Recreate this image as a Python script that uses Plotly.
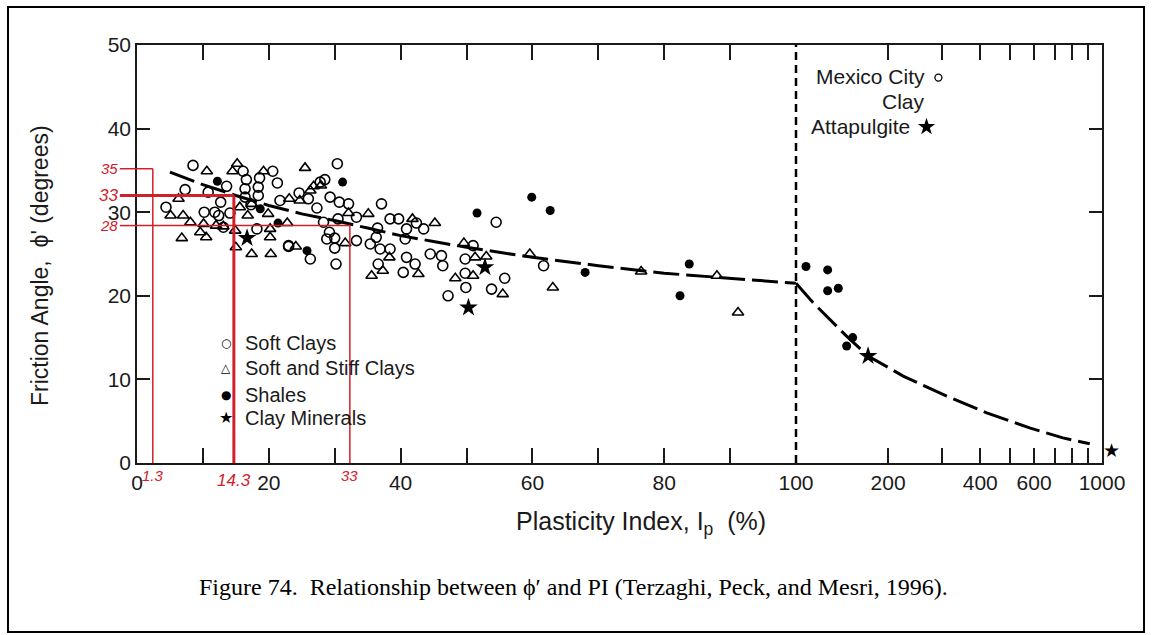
import math
import plotly.graph_objects as go

# ---------------- data ----------------
soft_x = [4.4, 7.3, 8.5, 10.2, 10.8, 11.8, 12.7, 12.4, 13.6, 14.1, 13.1, 16.1, 16.6, 16.4, 16.4, 17.3,
          18.6, 18.4, 18.4, 18.2, 20.6, 21.3, 21.7, 23.0, 24.6, 26.3, 27.3, 27.8, 28.5, 29.3, 29.2,
          28.8, 30.0, 30.0, 30.2, 30.4, 30.7, 32.1, 33.3, 33.3, 30.5, 28.3, 37.1, 35.4, 36.3, 36.9,
          38.4, 36.6, 38.4, 39.7, 40.9, 42.4, 43.5, 40.7, 40.9, 42.2, 40.4, 44.5, 46.2, 46.4, 47.2,
          49.8, 49.8, 49.9, 51.0, 53.8, 55.8, 54.5, 61.7, 26.0, 36.5, 23.0]
soft_y = [30.6, 32.7, 35.6, 30.0, 32.4, 30.0, 31.2, 29.6, 33.1, 29.9, 28.2, 34.9, 33.9, 32.8, 31.8, 30.9,
          34.1, 33.0, 32.0, 28.0, 34.9, 33.5, 31.4, 25.9, 32.3, 24.4, 30.5, 33.6, 33.9, 31.8, 27.6,
          26.8, 26.9, 25.7, 23.8, 35.8, 31.2, 31.0, 29.4, 26.6, 29.2, 28.8, 31.0, 26.2, 27.0, 25.6,
          25.6, 23.8, 29.2, 29.2, 28.0, 28.7, 28.0, 26.8, 24.6, 23.8, 22.8, 25.0, 24.8, 23.6, 20.0,
          24.4, 22.7, 21.0, 26.0, 20.8, 22.1, 28.8, 23.6, 31.6, 28.1, 26.0]

stiff_x = [5.1, 6.3, 7.0, 8.1, 6.8, 9.6, 10.1, 10.5, 10.6, 12.0, 13.1, 14.5, 15.2, 14.9, 15.0, 15.6,
           17.4, 16.8, 17.4, 19.2, 19.9, 20.2, 20.2, 20.3, 22.8, 23.1, 24.1, 24.7, 25.5, 26.3, 26.8,
           27.9, 31.6, 32.1, 35.1, 35.6, 37.3, 38.3, 41.8, 42.7, 45.2, 48.3, 49.6, 51.0, 51.3, 53.0,
           55.5, 59.6, 63.1, 76.5, 88.0, 91.2]
stiff_y = [29.6, 31.6, 29.6, 28.8, 26.9, 27.6, 28.6, 27.0, 34.9, 28.4, 28.3, 34.9, 35.8, 27.8, 25.8, 30.6,
           31.0, 29.6, 25.0, 34.9, 29.8, 28.0, 27.0, 25.0, 28.7, 31.6, 25.9, 31.4, 35.3, 32.6, 33.1,
           33.2, 26.3, 29.9, 29.8, 22.4, 23.0, 24.6, 29.2, 22.6, 28.7, 22.1, 26.3, 22.4, 24.6, 24.7,
           20.2, 25.0, 21.0, 22.9, 22.4, 18.0]

shale_x = [12.2, 18.7, 21.4, 25.8, 31.2, 51.6, 59.9, 62.7, 68.0, 82.4, 83.8]
shale_y = [33.7, 30.4, 28.7, 25.4, 33.6, 29.9, 31.8, 30.2, 22.8, 20.0, 23.8]
shale_log_x = [107.8, 126.9, 126.9, 137.5, 146.4, 153.2]
shale_log_y = [23.5, 23.1, 20.6, 20.9, 14.0, 15.0]

mineral_x = [16.7, 52.8, 50.3]
mineral_y = [26.9, 23.4, 18.6]
mineral_log_x = [172.0]
mineral_log_y = [12.8]
# the last Clay Minerals point sits just beyond Ip = 1000 (outside the frame)
mineral_far_x = [1075.0]
mineral_far_y = [1.6]

trend_lin_x = [5, 10, 15, 20, 25, 30, 35, 40, 45, 50, 60, 70, 80, 90, 100]
trend_lin_y = [34.8, 33.3, 32.0, 30.8, 29.8, 29.0, 28.1, 27.2, 26.5, 25.8, 24.6, 23.6, 22.7, 22.1, 21.5]
trend_log_x = [100, 113.6, 146, 172, 224, 311, 420, 580, 745, 912]
trend_log_y = [21.5, 19.2, 15.2, 12.8, 10.4, 8.0, 6.0, 4.2, 3.0, 2.3]

# key symbols for Mexico City clay / Attapulgite
key_x = [292, 267]
key_y = [46.1, 40.2]

# legend (drawn as text, inside the plot)
legend_labels = ["Soft Clays", "Soft and Stiff Clays", "Shales", "Clay Minerals"]
legend_glyphs = ["\u25cb", "\u25b3", "\u25cf", "\u2605"]
legend_glyph_sizes = [12, 12, 12, 16]
legend_rows_y = [14.4, 11.4, 8.1, 5.4]

# red overlay (positions as drawn, labels as written)
red_vx = [2.4, 14.7, 32.3]
red_hy = [35.2, 32.0, 28.4]
red_x_labels = ["1.3", "14.3", "33"]
red_y_labels = ["35", "33", "28"]
red_widths = [1.5, 3, 1.5]

lin_range = [0, 100]
log_range = [2, 3]
lin_tickvals = [0, 10, 20, 30, 40, 50, 60, 70, 80, 90]
lin_ticktext = ["0", "", "20", "", "40", "", "60", "", "80", ""]
log_tickvals = [100, 200, 300, 400, 500, 600, 700, 800, 900, 1000]
log_ticktext = ["100", "200", "", "400", "", "600", "", "", "", "1000"]

# ---------------- figure ----------------
FONT = "Liberation Sans, Arial, sans-serif"
INK = "#1a1a1a"
RED = "#d0202a"
dom_split = (796 - 137) / 965

fig = go.Figure()

line_style = dict(color="black", width=3, dash="26px,7px")
fig.add_trace(go.Scatter(x=trend_lin_x, y=trend_lin_y, mode="lines", line=line_style,
                         xaxis="x", yaxis="y", showlegend=False, hoverinfo="skip"))
fig.add_trace(go.Scatter(x=trend_log_x, y=trend_log_y, mode="lines", line=line_style,
                         xaxis="x2", yaxis="y2", showlegend=False, hoverinfo="skip"))

def add_cat(name, xs, ys, marker, axis="lin"):
    fig.add_trace(go.Scatter(
        x=xs, y=ys, mode="markers", name=name, showlegend=False,
        marker=marker, cliponaxis=False,
        xaxis="x" if axis == "lin" else "x2", yaxis="y" if axis == "lin" else "y2"))

m_soft = dict(symbol="circle-open", size=10, color="black", line=dict(width=1.6, color="black"))
m_stiff = dict(symbol="triangle-up-open", size=10, color="black", line=dict(width=1.6, color="black"))
m_shale = dict(symbol="circle", size=9, color="black")
m_min = dict(symbol="star", size=14, color="black")

add_cat("Soft Clays", soft_x, soft_y, m_soft)
add_cat("Soft and Stiff Clays", stiff_x, stiff_y, m_stiff)
add_cat("Shales", shale_x, shale_y, m_shale)
add_cat("Clay Minerals", mineral_x, mineral_y, m_min)
add_cat("Shales", shale_log_x, shale_log_y, m_shale, axis="log")
add_cat("Clay Minerals", mineral_log_x, mineral_log_y, m_min, axis="log")

fig.add_trace(go.Scatter(x=key_x[:1], y=key_y[:1], mode="markers", xaxis="x2", yaxis="y2",
                         showlegend=False, cliponaxis=False,
                         marker=dict(symbol="circle-open", size=7, color="black",
                                     line=dict(width=1.3, color="black"))))
fig.add_trace(go.Scatter(x=key_x[1:], y=key_y[1:], mode="markers", xaxis="x2", yaxis="y2",
                         showlegend=False, cliponaxis=False,
                         marker=dict(symbol="star", size=13, color="black")))

axis_common = dict(showgrid=False, zeroline=False, showline=True, linecolor=INK, linewidth=1.5,
                   ticks="inside", tickcolor=INK, tickwidth=1.5,
                   tickfont=dict(family=FONT, size=21, color=INK))

shapes = []
# vertical dashed divider at Ip = 100
shapes.append(dict(type="line", xref="x2 domain", x0=0, x1=0, yref="y", y0=0, y1=50,
                   line=dict(color="black", width=2.5, dash="8px,5px")))
# red overlay
for vx, hy, w in zip(red_vx, red_hy, red_widths):
    shapes.append(dict(type="line", xref="x", yref="y", x0=vx, x1=vx, y0=0, y1=hy,
                       line=dict(color=RED, width=w)))
    shapes.append(dict(type="line", xref="x", yref="y", x0=0, x1=vx, y0=hy, y1=hy,
                       line=dict(color=RED, width=w)))
    shapes.append(dict(type="line", xref="x domain", yref="y", x0=-0.026, x1=0, y0=hy, y1=hy,
                       line=dict(color=RED, width=w)))
# outer frame
shapes.append(dict(type="rect", xref="paper", yref="paper",
                   x0=(8 - 137) / 965, x1=(1144 - 137) / 965,
                   y0=(463 - 632) / 418, y1=(463 - 7) / 418,
                   line=dict(color="black", width=2)))

annotations = []
for vx, lab, w in zip(red_vx, red_x_labels, red_widths):
    big = w > 2
    annotations.append(dict(xref="x", yref="y domain", x=vx, y=0, yanchor="top",
                            yshift=-6 if big else -2, showarrow=False,
                            text=f"<i>{lab}</i>",
                            font=dict(family=FONT, size=17 if big else 15, color=RED)))
for hy, lab, w in zip(red_hy, red_y_labels, red_widths):
    big = w > 2
    annotations.append(dict(xref="x domain", yref="y", x=-0.028, y=hy, xanchor="right",
                            showarrow=False, text=f"<i>{lab}</i>", borderpad=0,
                            font=dict(family=FONT, size=17 if big else 15, color=RED)))

# in-plot legend
for glyph, gsize, lab, ry in zip(legend_glyphs, legend_glyph_sizes, legend_labels, legend_rows_y):
    annotations.append(dict(xref="x domain", yref="y", x=(226 - 137) / 659, y=ry,
                            xanchor="center", showarrow=False, text=glyph,
                            font=dict(family="DejaVu Sans, sans-serif", size=gsize, color="black")))
    annotations.append(dict(xref="x domain", yref="y", x=(243 - 137) / 659, y=ry,
                            xanchor="left", showarrow=False, text=lab,
                            font=dict(family=FONT, size=20, color=INK)))

# Clay Minerals point just outside the frame: position from the log axis scale
for fx, fy in zip(mineral_far_x, mineral_far_y):
    frac = (math.log10(fx) - log_range[0]) / (log_range[1] - log_range[0])
    paper_x = dom_split + (1 - dom_split) * frac
    annotations.append(dict(xref="paper", yref="y", x=paper_x, y=fy, showarrow=False,
                            xanchor="center", yanchor="middle",
                            text="\u2605", font=dict(family="DejaVu Sans, sans-serif", size=19,
                                                     color="black")))

annotations += [
    dict(xref="x2 domain", yref="y", x=0.428, y=46.2, xanchor="right", showarrow=False,
         text="Mexico City", font=dict(family=FONT, size=21, color=INK)),
    dict(xref="x2 domain", yref="y", x=0.35, y=43.3, xanchor="center", showarrow=False,
         text="Clay", font=dict(family=FONT, size=21, color=INK)),
    dict(xref="x2 domain", yref="y", x=0.379, y=40.2, xanchor="right", showarrow=False,
         text="Attapulgite", font=dict(family=FONT, size=21, color=INK)),
    dict(xref="paper", yref="paper", x=(641 - 137) / 965, y=(463 - 523) / 418,
         xanchor="center", yanchor="middle", showarrow=False,
         text="Plasticity Index, I<sub>p</sub>  (%)", font=dict(family=FONT, size=25, color=INK)),
    dict(xref="paper", yref="paper", x=(40 - 137) / 965, y=(463 - 266) / 418,
         xanchor="center", yanchor="middle", textangle=-90, showarrow=False,
         text="Friction Angle,  \u03d5' (degrees)", font=dict(family=FONT, size=23, color=INK)),
    dict(xref="paper", yref="paper", x=(573 - 137) / 965, y=(463 - 587) / 418,
         xanchor="center", yanchor="middle", showarrow=False,
         text="Figure 74.  Relationship between \u03d5\u2032 and PI (Terzaghi, Peck, and Mesri, 1996).",
         font=dict(family="Liberation Serif, Times New Roman, serif", size=24, color="black")),
]

fig.update_layout(
    width=1152, height=635,
    margin=dict(l=137, r=50, t=45, b=172),
    paper_bgcolor="white", plot_bgcolor="white",
    showlegend=False,
    xaxis=dict(domain=[0, dom_split], range=lin_range, tickvals=lin_tickvals, ticktext=lin_ticktext,
               ticklen=15, mirror="ticks", anchor="y", **axis_common),
    xaxis2=dict(domain=[dom_split, 1], type="log", range=log_range, tickvals=log_tickvals,
                ticktext=log_ticktext, ticklen=15, mirror="ticks", anchor="y2", **axis_common),
    yaxis=dict(range=[0, 50], tickvals=[0, 10, 20, 30, 40, 50], ticklen=13, anchor="x",
               side="left", **axis_common),
    yaxis2=dict(range=[0, 50], matches="y", tickvals=[10, 20, 30, 40], ticklen=13, anchor="x2",
                side="right", showticklabels=False, **axis_common),
    shapes=shapes,
    annotations=annotations,
)

fig.write_html("out.html")
